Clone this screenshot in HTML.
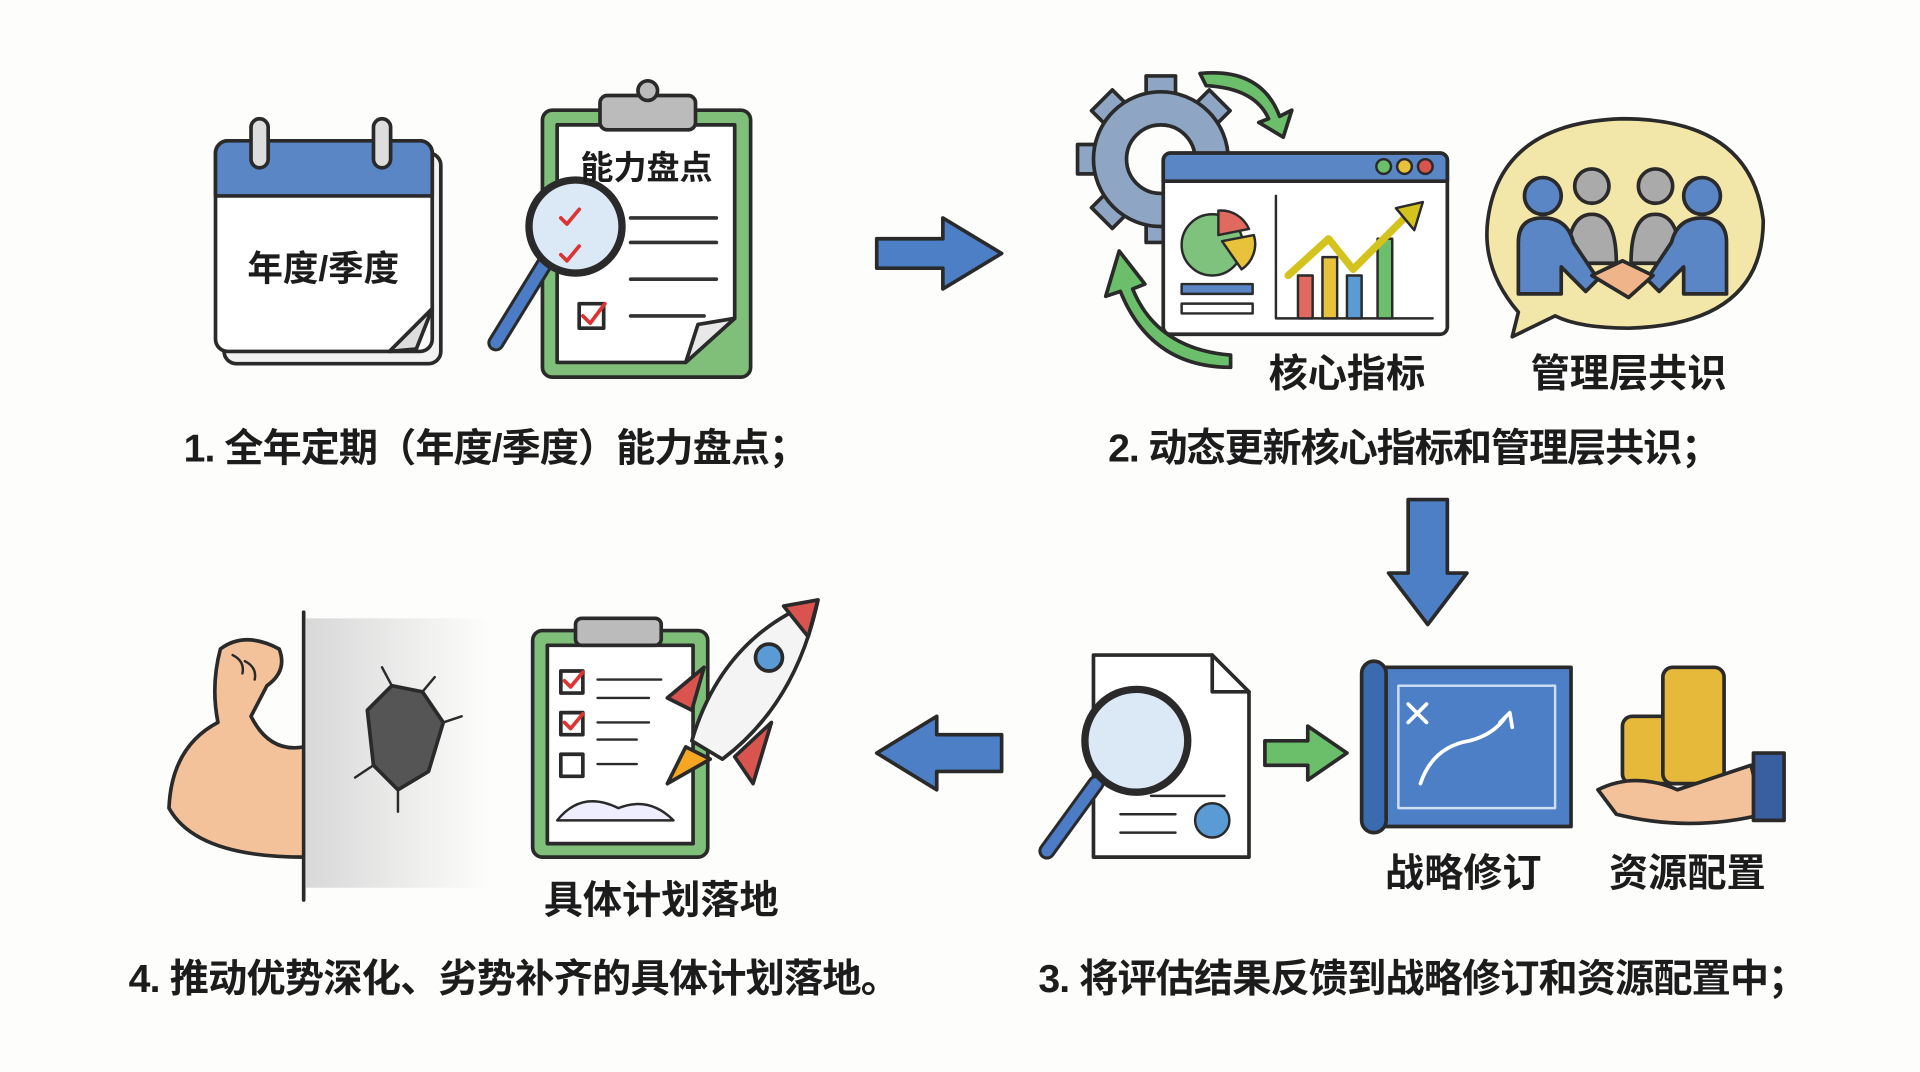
<!DOCTYPE html>
<html><head><meta charset="utf-8"><style>
html,body{margin:0;padding:0;background:#fdfdfc;}
svg{display:block}
text{font-family:"Liberation Sans","Noto Sans CJK SC",sans-serif;fill:#1c1c1c;font-weight:700}
</style></head><body>
<svg width="1920" height="1072" viewBox="0 0 1568 875.5" preserveAspectRatio="none" xmlns="http://www.w3.org/2000/svg">
<defs>
<linearGradient id="wall" x1="0" x2="1"><stop offset="0" stop-color="#d8d8d8"/><stop offset="1" stop-color="#fdfdfc"/></linearGradient>
</defs>
<rect width="1568" height="876" fill="#fdfdfc"/>
<g stroke="#2a2a2a" stroke-width="3" stroke-linejoin="round" stroke-linecap="round">
<!-- calendar -->
<rect x="183" y="125" width="177" height="172" rx="10" fill="#f2f2f2"/>
<rect x="176" y="115" width="177" height="172" rx="10" fill="#fff"/>
<path d="M176 160 V125 a10 10 0 0 1 10 -10 h157 a10 10 0 0 1 10 10 V160 Z" fill="#5b86c6"/>
<rect x="205" y="97" width="14" height="40" rx="7" fill="#ddd"/>
<rect x="305" y="97" width="14" height="40" rx="7" fill="#ddd"/>
<path d="M318 287 L353 252 L340 285 Z" fill="#ddd"/>
<!-- clipboard 1 -->
<rect x="443" y="90" width="170" height="218" rx="8" fill="#7fbf7a"/>
<path d="M455 102 H600 V260 L560 296 H455 Z" fill="#fff"/>
<path d="M560 296 L600 260 L570 265 Z" fill="#e8e8e8"/>
<rect x="490" y="78" width="78" height="28" rx="6" fill="#bbb"/>
<circle cx="529" cy="74" r="8" fill="#bbb"/>
<g fill="none" stroke="#333"><path d="M515 178 H585 M515 198 H585 M515 228 H585 M515 258 H575"/></g>
<rect x="473" y="248" width="20" height="20" fill="#fff"/>
<path d="M476 258 l6 6 l12 -16" stroke="#d33" fill="none"/>
<line x1="445" y1="215" x2="405" y2="280" stroke-width="14" stroke="#2a2a2a"/>
<line x1="445" y1="215" x2="405" y2="280" stroke-width="9" stroke="#4b7cc5"/>
<circle cx="470" cy="185" r="38" fill="#dbe8f5" stroke-width="6"/>
<path d="M458 178 l5 5 l10 -12 M458 208 l5 5 l10 -12" stroke="#d33" fill="none"/>
<!-- arrow right -->
<path d="M716 195 H770 V178 L818 207 L770 236 V219 H716 Z" fill="#4c7fc6"/>
<!-- gear -->
<g fill="#8ea5c4">
<rect x="936" y="62" width="24" height="20"/>
<rect x="936" y="62" width="24" height="20" transform="rotate(45 948 130)"/>
<rect x="936" y="62" width="24" height="20" transform="rotate(-45 948 130)"/>
<rect x="936" y="62" width="24" height="20" transform="rotate(-90 948 130)"/>
<rect x="936" y="62" width="24" height="20" transform="rotate(-135 948 130)"/>
<rect x="936" y="62" width="24" height="20" transform="rotate(180 948 130)"/>
<circle cx="948" cy="130" r="55"/>
</g>
<circle cx="948" cy="130" r="28" fill="#fdfdfc"/>
<!-- green arrows -->
<path d="M980 60 Q1030 55 1045 95 L1055 90 L1048 112 L1028 100 L1036 97 Q1025 72 985 70 Z" fill="#6cbf6a"/>
<path d="M1005 300 Q940 300 915 238 L903 242 L914 205 L935 232 L925 236 Q945 285 1005 290 Z" fill="#6cbf6a"/>
<!-- dashboard -->
<rect x="950" y="125" width="232" height="148" rx="6" fill="#fff"/>
<path d="M950 148 V131 a6 6 0 0 1 6 -6 h220 a6 6 0 0 1 6 6 V148 Z" fill="#5b86c6"/>
<circle cx="1130" cy="136" r="6" fill="#6cbf6a" stroke-width="2"/>
<circle cx="1147" cy="136" r="6" fill="#e8c23a" stroke-width="2"/>
<circle cx="1164" cy="136" r="6" fill="#d9534f" stroke-width="2"/>
<circle cx="990" cy="200" r="25" fill="#7fc27d" stroke-width="2"/>
<path d="M995 172 a25 25 0 0 1 25 15 l-25 5 Z" fill="#e06a5f" stroke-width="2"/>
<path d="M998 197 l26 -5 a25 25 0 0 1 -10 28 Z" fill="#e8c23a" stroke-width="2"/>
<rect x="965" y="232" width="58" height="8" fill="#5b86c6" stroke-width="2"/>
<rect x="965" y="248" width="58" height="8" fill="#fff" stroke-width="2"/>
<path d="M1042 160 V260 H1170" fill="none" stroke-width="2"/>
<rect x="1060" y="225" width="12" height="35" fill="#e06a5f" stroke-width="2"/>
<rect x="1080" y="210" width="12" height="50" fill="#e8c23a" stroke-width="2"/>
<rect x="1100" y="225" width="12" height="35" fill="#5b9bd5" stroke-width="2"/>
<rect x="1125" y="195" width="12" height="65" fill="#6cbf6a" stroke-width="2"/>
<path d="M1052 225 L1085 195 L1105 220 L1150 175" fill="none" stroke="#d4c21d" stroke-width="6"/>
<path d="M1140 170 L1162 165 L1155 188 Z" fill="#d4c21d" stroke-width="2"/>
<!-- speech bubble -->
<path d="M1240 255 Q1210 220 1215 180 Q1225 100 1325 97 Q1430 97 1440 180 Q1440 265 1330 268 Q1290 268 1270 258 L1235 275 Z" fill="#f2e6a8"/>
<g fill="#aaa"><circle cx="1300" cy="152" r="14"/><circle cx="1352" cy="152" r="14"/>
<path d="M1280 215 q0 -40 20 -40 q20 0 20 40 Z"/><path d="M1332 215 q0 -40 20 -40 q20 0 20 40 Z"/></g>
<g fill="#5b86c6"><circle cx="1260" cy="160" r="15"/><path d="M1240 240 V198 q0 -20 20 -20 q20 0 25 20 l20 30 l-10 10 l-20 -20 V240 Z"/>
<circle cx="1390" cy="160" r="15"/><path d="M1410 240 V198 q0 -20 -20 -20 q-20 0 -25 20 l-20 30 l10 10 l20 -20 V240 Z"/></g>
<path d="M1300 225 l25 -12 l25 12 l-20 18 Z" fill="#f0b48a"/>
<!-- down arrow -->
<path d="M1150 408 H1182 V468 H1198 L1166 510 L1134 468 H1150 Z" fill="#4c7fc6"/>
<!-- wall + muscle -->
<rect x="250" y="505" width="150" height="220" fill="url(#wall)" stroke="none"/>
<path d="M248 500 V735" stroke-width="3"/>
<path d="M300 580 L320 560 L345 565 L362 590 L350 630 L325 645 L305 625 Z" fill="#555"/>
<path d="M320 560 l-8 -15 M345 565 l10 -12 M362 590 l15 -5 M305 625 l-15 10 M325 645 l0 18" fill="none" stroke-width="2"/>
<path d="M248 610 Q220 615 205 585 L218 560 Q235 548 228 530 Q200 515 180 530 Q172 560 178 590 Q140 610 138 660 Q160 700 248 700 Z" fill="#f3c29b"/>
<path d="M200 540 q10 5 8 15 M190 535 q10 5 8 15" fill="none" stroke-width="2"/>
<!-- clipboard 2 -->
<rect x="435" y="515" width="143" height="185" rx="8" fill="#7fbf7a"/>
<rect x="447" y="527" width="119" height="162" fill="#fff"/>
<rect x="470" y="505" width="70" height="22" rx="5" fill="#bbb"/>
<g fill="#fff"><rect x="458" y="548" width="18" height="18"/><rect x="458" y="582" width="18" height="18"/><rect x="458" y="616" width="18" height="18"/></g>
<path d="M461 556 l5 5 l10 -12 M461 590 l5 5 l10 -12" stroke="#d33" fill="none"/>
<path d="M488 555 H540 M488 570 H530 M488 590 H530 M488 604 H520 M488 624 H520" fill="none" stroke-width="2"/>
<path d="M455 670 q20 -25 50 -10 q25 -10 45 10 Z" fill="#eef" stroke-width="2"/>
<!-- rocket -->
<path d="M545 640 L560 610 L580 620 Z" fill="#f5a623"/>
<path d="M565 605 Q590 520 668 490 Q650 575 590 620 Z" fill="#f4f4f4"/>
<path d="M640 495 L668 490 L660 520 Z" fill="#d9534f"/>
<path d="M565 580 L545 570 L575 545 Z M600 618 L615 640 L630 590 Z" fill="#d9534f"/>
<circle cx="628" cy="537" r="11" fill="#5b9bd5"/>
<!-- left arrow -->
<path d="M818 600 H765 V585 L716 615 L765 645 V630 H818 Z" fill="#4c7fc6"/>
<!-- document -->
<path d="M893 535 H990 L1020 565 V700 H893 Z" fill="#fff"/>
<path d="M990 535 V565 H1020" fill="none"/>
<path d="M940 650 H1000 M915 665 H960 M915 680 H960" stroke-width="2" fill="none"/>
<circle cx="990" cy="670" r="14" fill="#5b9bd5" stroke-width="2"/>
<line x1="895" y1="640" x2="855" y2="695" stroke-width="14"/>
<line x1="895" y1="640" x2="855" y2="695" stroke-width="9" stroke="#4b7cc5"/>
<circle cx="928" cy="605" r="42" fill="#dbe8f5" stroke-width="6"/>
<!-- green arrow -->
<path d="M1033 605 H1068 V593 L1100 615 L1068 637 V625 H1033 Z" fill="#6cbf6a"/>
<!-- blueprint -->
<rect x="1118" y="545" width="165" height="130" fill="#4c7fc6"/>
<rect x="1112" y="540" width="20" height="140" rx="10" fill="#3a6bb0"/>
<rect x="1142" y="560" width="128" height="100" fill="none" stroke="#cfe0f5" stroke-width="2"/>
<path d="M1150 575 l15 15 M1165 575 l-15 15 M1160 640 q10 -30 40 -35 q20 -5 30 -20" stroke="#fff" fill="none"/>
<path d="M1225 590 l8 -8 l2 12" stroke="#fff" fill="none"/>
<!-- coins -->
<g fill="#e6b93a"><rect x="1325" y="585" width="45" height="55" rx="8"/><rect x="1358" y="545" width="50" height="95" rx="8"/></g>
<path d="M1305 645 Q1335 630 1370 645 L1430 625 L1440 665 Q1380 680 1320 665 Z" fill="#f3c29b"/>
<rect x="1432" y="615" width="25" height="55" fill="#3a5fa0"/>
</g>
<g font-size="29" text-anchor="middle">
<text x="264" y="229">年度/季度</text>
<text x="528" y="146" font-size="27">能力盘点</text>
</g>
<g font-size="32" text-anchor="middle">
<text x="1100" y="316">核心指标</text>
<text x="1330" y="316">管理层共识</text>
<text x="540" y="746">具体计划落地</text>
<text x="1195" y="724">战略修订</text>
<text x="1378" y="724">资源配置</text>
</g>
<g font-size="32">
<text x="150" y="377" textLength="510">1. 全年定期（年度/季度）能力盘点；</text>
<text x="905" y="377" textLength="500">2. 动态更新核心指标和管理层共识；</text>
<text x="105" y="810" textLength="630">4. 推动优势深化、劣势补齐的具体计划落地。</text>
<text x="848" y="810" textLength="628">3. 将评估结果反馈到战略修订和资源配置中；</text>
</g>
</svg>
</body></html>
